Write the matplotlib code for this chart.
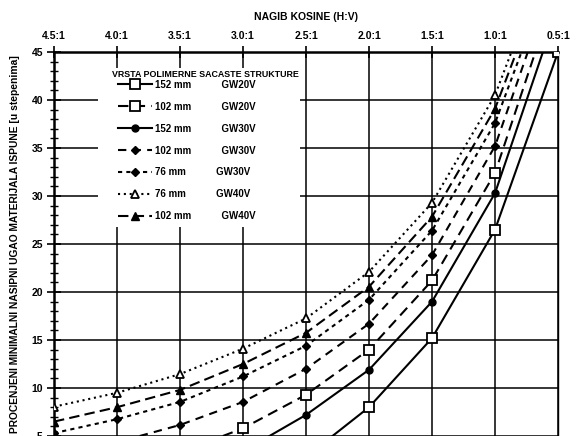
import matplotlib
matplotlib.use("Agg")
from matplotlib import pyplot as plt
from matplotlib.patches import Rectangle
from matplotlib.ticker import MultipleLocator

plt.rcParams['font.family'] = ['Liberation Sans', 'DejaVu Sans']
plt.rcParams['font.weight'] = 'bold'

# nagib kosine (H:V) - oznake na gornjoj osi
nagib = [4.5, 4.0, 3.5, 3.0, 2.5, 2.0, 1.5, 1.0, 0.5]
nagib_oznake = ['4.5:1', '4.0:1', '3.5:1', '3.0:1', '2.5:1', '2.0:1', '1.5:1', '1.0:1', '0.5:1']

# ocitane vrednosti (krajnje tacke su preseci sa ivicom grafika, 5 i 45 stepeni)
x_152_gw20 = [2.29, 2.0, 1.5, 1.0, 0.5]
y_152_gw20 = [5.0, 8.0, 15.2, 26.5, 45.0]

x_102_gw20 = [3.16, 3.0, 2.5, 2.0, 1.5, 1.0, 0.68]
y_102_gw20 = [5.0, 5.8, 9.3, 14.0, 21.2, 32.4, 45.0]

x_152_gw30 = [2.79, 2.5, 2.0, 1.5, 1.0, 0.62]
y_152_gw30 = [5.0, 7.2, 11.9, 19.0, 30.3, 45.0]

x_102_gw30 = [3.82, 3.5, 3.0, 2.5, 2.0, 1.5, 1.0, 0.74]
y_102_gw30 = [5.0, 6.15, 8.55, 12.0, 16.7, 23.85, 35.2, 45.0]

x_76_gw30 = [4.5, 4.0, 3.5, 3.0, 2.5, 2.0, 1.5, 1.0, 0.79]
y_76_gw30 = [5.3, 6.75, 8.55, 11.2, 14.4, 19.2, 26.4, 37.6, 45.0]

x_76_gw40 = [4.5, 4.0, 3.5, 3.0, 2.5, 2.0, 1.5, 1.0, 0.87]
y_76_gw40 = [8.05, 9.5, 11.45, 14.1, 17.25, 22.1, 29.3, 40.5, 45.0]

x_102_gw40 = [4.5, 4.0, 3.5, 3.0, 2.5, 2.0, 1.5, 1.0, 0.83]
y_102_gw40 = [6.5, 8.0, 9.8, 12.5, 15.75, 20.55, 27.85, 39.1, 45.0]

fig = plt.figure(figsize=(5.79, 4.36), dpi=100)
ax = fig.add_axes([0.0933, 0.0, 0.8705, 0.8807])

k = 'black'
# 152 mm GW20V - puna linija, prazan kvadrat
ax.plot(x_152_gw20, y_152_gw20, color=k, lw=1.5, ls='-', marker='s', ms=6.5,
        mfc='white', mec=k, mew=1.3, markevery=[1, 2, 3, 4],
        label='152 mm           GW20V', zorder=3)
# 102 mm GW20V - isprekidana, prazan kvadrat
ax.plot(x_102_gw20, y_102_gw20, color=k, lw=1.5, ls=(0, (5, 3)), marker='s', ms=6.5,
        mfc='white', mec=k, mew=1.3, markevery=[1, 2, 3, 4, 5],
        label='102 mm           GW20V', zorder=3)
# 152 mm GW30V - puna linija, pun krug
ax.plot(x_152_gw30, y_152_gw30, color=k, lw=1.5, ls='-', marker='o', ms=5,
        markevery=[1, 2, 3, 4], label='152 mm           GW30V', zorder=3)
# 102 mm GW30V - crta-tacka, pun romb
ax.plot(x_102_gw30, y_102_gw30, color=k, lw=1.5, ls=(0, (4, 3)), marker='D', ms=4.5,
        markevery=[1, 2, 3, 4, 5, 6], label='102 mm           GW30V', zorder=3)
# 76 mm GW30V - tackasta, pun romb
ax.plot(x_76_gw30, y_76_gw30, color=k, lw=1.5, ls=(0, (2, 2)), marker='D', ms=4.5,
        markevery=list(range(8)), label='76 mm           GW30V', zorder=3)
# 76 mm GW40V - tackasta, prazan trougao
ax.plot(x_76_gw40, y_76_gw40, color=k, lw=1.5, ls=(0, (1, 1.8)), marker='^', ms=6,
        mfc='white', mec=k, mew=1.3, markevery=list(range(8)),
        label='76 mm           GW40V', zorder=3)
# 102 mm GW40V - isprekidana, pun trougao
ax.plot(x_102_gw40, y_102_gw40, color=k, lw=1.5, ls=(0, (5, 2.5)), marker='^', ms=6,
        markevery=list(range(8)), label='102 mm           GW40V', zorder=3)

ax.set_xlim(4.5, 0.5)
ax.set_ylim(5, 45)

ax.xaxis.tick_top()
ax.xaxis.set_label_position('top')
ax.set_xticks(nagib)
ax.set_xticklabels(nagib_oznake)
ax.set_xlabel('NAGIB KOSINE (H:V)', fontsize=7.5, fontweight='bold', labelpad=8)

ax.yaxis.set_major_locator(MultipleLocator(5))
ax.yaxis.set_minor_locator(MultipleLocator(1))
ax.set_ylabel('PROCENJENI MINIMALNI NASIPNI UGAO MATERIJALA ISPUNE [u stepenima]',
              fontsize=7.4, fontweight='bold', labelpad=8)

ax.tick_params(axis='x', which='major', direction='inout', length=8, width=1.2,
               labelsize=7.5, pad=4, colors=k)
ax.tick_params(axis='y', which='major', direction='inout', length=10, width=1.2,
               labelsize=7.5, pad=3, colors=k)
ax.tick_params(axis='y', which='minor', direction='inout', length=6, width=1.0)

ax.grid(True, which='major', color=k, lw=1.1)
ax.set_axisbelow(True)

ax.spines['top'].set_linewidth(1.8)
ax.spines['left'].set_linewidth(1.8)
ax.spines['right'].set_linewidth(1.0)
ax.spines['bottom'].set_visible(False)

# belo polje ispod legende (prekriva mrezu)
ax.add_patch(Rectangle((0.087, 0.544), 0.401, 0.414, transform=ax.transAxes,
                       facecolor='white', edgecolor='none', zorder=1))
ax.text(0.115, 0.9427, 'VRSTA POLIMERNE SACASTE STRUKTURE', transform=ax.transAxes,
        fontsize=6.4, fontweight='bold', ha='left', va='center', zorder=4)

leg = ax.legend(loc='upper left', bbox_to_anchor=(0.127, 0.928),
                prop={'size': 7, 'weight': 'bold'}, frameon=False,
                handlelength=3.5, labelspacing=1.23, handletextpad=0.3,
                borderpad=0, borderaxespad=0)
leg.set_zorder(5)

fig.savefig('out.png', dpi=100)
